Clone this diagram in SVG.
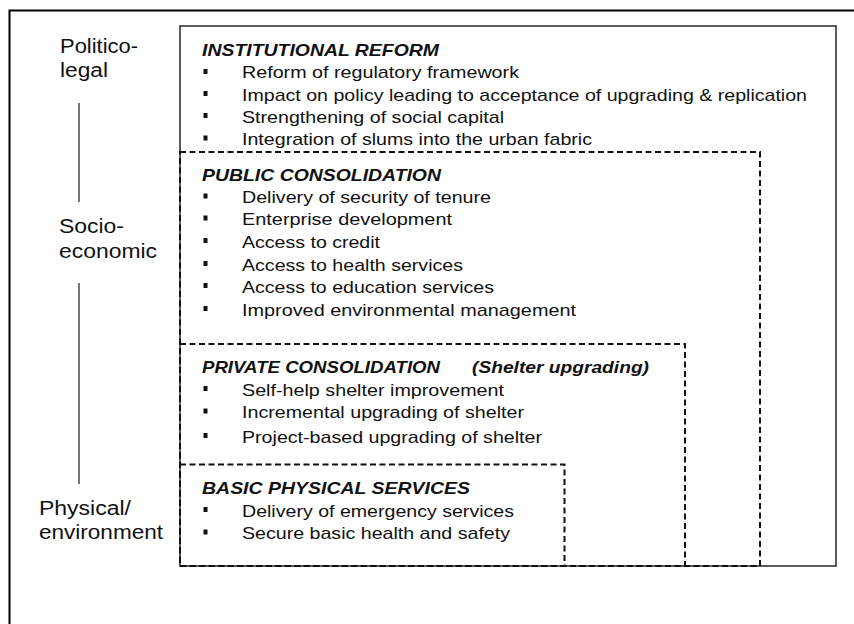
<svg xmlns="http://www.w3.org/2000/svg" width="854" height="624" viewBox="0 0 854 624">
<style>
.frame{fill:none;stroke:#000;stroke-width:2}
.solid{fill:none;stroke:#333;stroke-width:1.6}
.dash{fill:none;stroke:#111;stroke-width:2;stroke-dasharray:6 3.5}
.axis{stroke:#777;stroke-width:2}
.t{font-family:"Liberation Sans",Arial,sans-serif;font-size:17px;fill:#111}
.h{font-family:"Liberation Sans",Arial,sans-serif;font-size:17px;font-weight:bold;font-style:italic;fill:#111}
.lab{font-family:"Liberation Sans",Arial,sans-serif;font-size:20px;fill:#111}
.b{fill:#111}
</style>
<rect width="854" height="624" fill="#fff"/>
<rect class="frame" x="9.5" y="10.5" width="860" height="630"/>

<g id="connectors">
<line class="axis" x1="79" y1="103" x2="79" y2="202"/>
<line class="axis" x1="79" y1="283" x2="79" y2="484"/>
</g>

<g id="label-politico">
<text class="lab" x="60" y="53" textLength="78" lengthAdjust="spacingAndGlyphs">Politico-</text>
<text class="lab" x="60" y="77" textLength="48" lengthAdjust="spacingAndGlyphs">legal</text>
</g>
<g id="label-socio">
<text class="lab" x="59" y="233" textLength="65" lengthAdjust="spacingAndGlyphs">Socio-</text>
<text class="lab" x="59" y="258" textLength="98" lengthAdjust="spacingAndGlyphs">economic</text>
</g>
<g id="label-physical">
<text class="lab" x="39" y="515" textLength="92" lengthAdjust="spacingAndGlyphs">Physical/</text>
<text class="lab" x="39" y="539" textLength="124" lengthAdjust="spacingAndGlyphs">environment</text>
</g>

<g id="institutional-reform">
<rect class="solid" x="180" y="26" width="656" height="540"/>
<text class="h" x="202" y="56" textLength="237" lengthAdjust="spacingAndGlyphs">INSTITUTIONAL  REFORM</text>
<rect class="b" x="203.5" y="69" width="4" height="5"/>
<text class="t" x="242" y="78" textLength="277" lengthAdjust="spacingAndGlyphs">Reform of regulatory framework</text>
<rect class="b" x="203.5" y="91" width="4" height="5"/>
<text class="t" x="242" y="100.5" textLength="565" lengthAdjust="spacingAndGlyphs">Impact on policy leading to acceptance of upgrading &amp; replication</text>
<rect class="b" x="203.5" y="113" width="4" height="5"/>
<text class="t" x="242" y="122.5" textLength="262" lengthAdjust="spacingAndGlyphs">Strengthening of social capital</text>
<rect class="b" x="203.5" y="135.5" width="4" height="5"/>
<text class="t" x="242" y="145" textLength="350" lengthAdjust="spacingAndGlyphs">Integration of slums into the urban fabric</text>
</g>

<g id="public-consolidation">
<rect class="dash" x="180" y="152" width="580" height="414"/>
<text class="h" x="202" y="180.5" textLength="239" lengthAdjust="spacingAndGlyphs">PUBLIC CONSOLIDATION</text>
<rect class="b" x="203.5" y="193.5" width="4" height="5"/>
<text class="t" x="242" y="203" textLength="249" lengthAdjust="spacingAndGlyphs">Delivery of security of tenure</text>
<rect class="b" x="203.5" y="215.5" width="4" height="5"/>
<text class="t" x="242" y="225" textLength="210" lengthAdjust="spacingAndGlyphs">Enterprise development</text>
<rect class="b" x="203.5" y="238" width="4" height="5"/>
<text class="t" x="242" y="247.5" textLength="138" lengthAdjust="spacingAndGlyphs">Access to credit</text>
<rect class="b" x="203.5" y="261" width="4" height="5"/>
<text class="t" x="242" y="270.5" textLength="221" lengthAdjust="spacingAndGlyphs">Access to health services</text>
<rect class="b" x="203.5" y="283" width="4" height="5"/>
<text class="t" x="242" y="292.5" textLength="252" lengthAdjust="spacingAndGlyphs">Access to education services</text>
<rect class="b" x="203.5" y="306" width="4" height="5"/>
<text class="t" x="242" y="315.5" textLength="334" lengthAdjust="spacingAndGlyphs">Improved environmental management</text>
</g>

<g id="private-consolidation">
<rect class="dash" x="180" y="344" width="505" height="222"/>
<text class="h" x="202" y="373" textLength="238" lengthAdjust="spacingAndGlyphs">PRIVATE CONSOLIDATION</text>
<text class="h" x="472" y="373" textLength="177" lengthAdjust="spacingAndGlyphs">(Shelter upgrading)</text>
<rect class="b" x="203.5" y="386" width="4" height="5"/>
<text class="t" x="242" y="395.5" textLength="262" lengthAdjust="spacingAndGlyphs">Self-help shelter improvement</text>
<rect class="b" x="203.5" y="408.5" width="4" height="5"/>
<text class="t" x="242" y="418" textLength="282" lengthAdjust="spacingAndGlyphs">Incremental upgrading of shelter</text>
<rect class="b" x="203.5" y="433" width="4" height="5"/>
<text class="t" x="242" y="442.5" textLength="300" lengthAdjust="spacingAndGlyphs">Project-based upgrading of shelter</text>
</g>

<g id="basic-physical-services">
<rect class="dash" x="180" y="464.5" width="384.5" height="101.5"/>
<text class="h" x="202" y="493.5" textLength="268" lengthAdjust="spacingAndGlyphs">BASIC PHYSICAL SERVICES</text>
<rect class="b" x="203.5" y="507" width="4" height="5"/>
<text class="t" x="242" y="516.5" textLength="272" lengthAdjust="spacingAndGlyphs">Delivery of emergency services</text>
<rect class="b" x="203.5" y="529.5" width="4" height="5"/>
<text class="t" x="242" y="539" textLength="268" lengthAdjust="spacingAndGlyphs">Secure basic health and safety</text>
</g>
</svg>
